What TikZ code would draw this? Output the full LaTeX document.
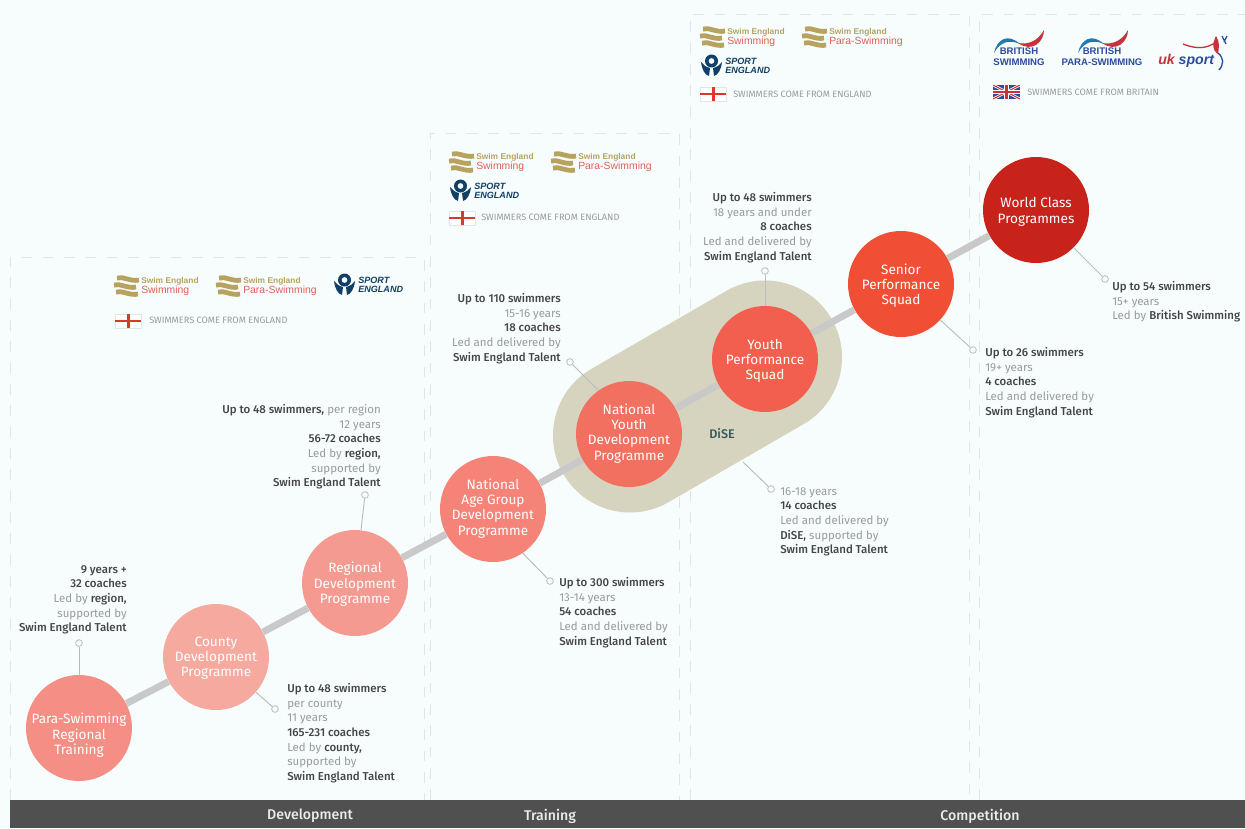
\documentclass[tikz,border=0pt]{standalone}
\usepackage{fontspec}
\setmainfont{Fira Sans}
\newfontfamily\medfont{Fira Sans Medium}
\newfontfamily\logofont{Liberation Sans}
\usetikzlibrary{calc}
\definecolor{bgc}{HTML}{F7FDFD}
\definecolor{panelc}{HTML}{E0E6E6}
\definecolor{barc}{HTML}{505050}
\definecolor{spinec}{HTML}{C9C9C9}
\definecolor{pillc}{HTML}{D6D3BF}
\definecolor{leadc}{HTML}{B8BDBD}
\definecolor{darkt}{HTML}{454545}
\definecolor{lightt}{HTML}{9A9A9A}
\definecolor{goldc}{HTML}{B7A25F}
\definecolor{redlog}{HTML}{DE5F58}
\definecolor{navyc}{HTML}{123F68}
\definecolor{flagr}{HTML}{D9382B}
\definecolor{bluc}{HTML}{2B4C9B}
\definecolor{swred}{HTML}{C8323A}
\definecolor{disec}{HTML}{2F5A5F}
\definecolor{c1}{HTML}{F58F85}
\definecolor{c2}{HTML}{F6A99F}
\definecolor{c3}{HTML}{F49A90}
\definecolor{c4}{HTML}{F58377}
\definecolor{c5}{HTML}{F17060}
\definecolor{c6}{HTML}{F25F4E}
\definecolor{c7}{HTML}{F14E36}
\definecolor{c8}{HTML}{C8231B}
\newcommand{\bld}[1]{{\color{darkt}\medfont #1}}
\newcommand{\stagetext}[2]{\raisebox{#1}[0pt][0pt]{\begin{tabular}{@{}c@{}}#2\end{tabular}}}
\tikzset{
  x=0.75pt,y=-0.75pt,
  stage/.style={circle,minimum size=79.5pt,inner sep=0pt,align=center,text=white,
    font=\fontsize{10.2}{11.5}\selectfont},
  spine/.style={spinec,line width=5.2pt},
  panel/.style={panelc,line width=0.7pt,dash pattern=on 8pt off 8pt},
  lead/.style={leadc,line width=0.7pt},
  dot/.style={circle,draw=leadc,line width=0.6pt,fill=bgc,minimum size=5pt,inner sep=0pt},
  info/.style={inner sep=0pt,text=lightt,font=\fontsize{8.6}{11}\selectfont},
  infol/.style={info,anchor=north west,align=left},
  infor/.style={info,anchor=north east,align=right},
  band/.style={text=white!92!black,font=\medfont\fontsize{10.6}{12}\selectfont},
  seline/.style={inner sep=0pt,anchor=west,font=\logofont\bfseries\fontsize{6.3}{7}\selectfont},
  flagtext/.style={inner sep=0pt,anchor=west,text=lightt,font=\fontsize{6.9}{8}\selectfont},
  bswim/.style={inner sep=0pt,text=bluc,font=\logofont\bfseries\fontsize{7.2}{8}\selectfont,align=center},
  sebars/.pic={
    \foreach \yy/\xa in {2/3,9/0,16/2}{
      \draw[goldc,line width=3.6pt] (\xa,\yy+1) .. controls (\xa+6,\yy-1) and (\xa+14,\yy+5) .. (\xa+22,\yy+3);
    }
  },
  seswim/.pic={
    \pic at (0,0) {sebars};
    \node[seline,text=goldc] (-a) at (27,6) {Swim England};
    \node[seline,text=redlog,font=\logofont\fontsize{7.8}{8}\selectfont] (-b) at (27,15.5) {Swimming};
  },
  separa/.pic={
    \pic at (0,0) {sebars};
    \node[seline,text=goldc] (-a) at (27,6) {Swim England};
    \node[seline,text=redlog,font=\logofont\fontsize{7.8}{8}\selectfont] (-b) at (27,15.5) {Para-Swimming};
  },
  sport/.pic={
    \fill[navyc,even odd rule] (10.5,5) circle (6.5) (10.5,5) circle (3);
    \fill[navyc] (0,6) .. controls (1,14) and (4,19) .. (8,20) -- (9,12) .. controls (5,11) and (2,9) .. (0,6) -- cycle;
    \fill[navyc] (21,6) .. controls (20,14) and (17,19) .. (13,20) -- (12,12) .. controls (16,11) and (19,9) .. (21,6) -- cycle;
    \node[inner sep=0pt,anchor=west,text=navyc,font=\logofont\bfseries\itshape\fontsize{6.8}{7}\selectfont,align=left] (-t) at (24,10) {SPORT\\ENGLAND};
  },
  engflag/.pic={
    \fill[white,draw=panelc,line width=0.4pt] (0,0) rectangle (26,14);
    \fill[flagr] (11.5,0) rectangle (14.5,14);
    \fill[flagr] (0,5.8) rectangle (26,8.2);
  },
  ukflag/.pic={
    \begin{scope}
      \clip (0,0) rectangle (27,14);
      \fill[bluc] (0,0) rectangle (27,14);
      \draw[white,line width=2pt] (0,0) -- (27,14) (27,0) -- (0,14);
      \draw[swred,line width=0.8pt] (0,0) -- (27,14) (27,0) -- (0,14);
      \draw[white,line width=3.4pt] (13.5,0) -- (13.5,14) (0,7) -- (27,7);
      \draw[swred,line width=1.8pt] (13.5,0) -- (13.5,14) (0,7) -- (27,7);
    \end{scope}
  },
  swoosh/.pic={
    \fill[bluc!75!cyan] (0,23) .. controls (3,9) and (14,3) .. (26,14) .. controls (15,9) and (6,12) .. (0,23) -- cycle;
    \fill[swred] (24,13) .. controls (34,15) and (44,11) .. (50,0) .. controls (50,12) and (38,23) .. (24,13) -- cycle;
  },
}
\begin{document}
\begin{tikzpicture}
\useasboundingbox (0,0) rectangle (1245,828);
\fill[bgc] (0,0) rectangle (1245,828);
% panels
\draw[panel] (10,800) -- (10,257) -- (424,257) -- (424,800);
\draw[panel] (430,800) -- (430,133) -- (679,133) -- (679,800);
\draw[panel] (690,800) -- (690,14) -- (969,14) -- (969,800);
\draw[panel] (979,800) -- (979,14) -- (1245,14);
% bottom band
\fill[barc] (10,800) rectangle (1245,828);
\node[band] (bandDev) at (310,816) {Development};
\node[band] (bandTrain) at (550,816) {Training};
\node[band] (bandComp) at (980,816) {Competition};
% DiSE pill
\coordinate (pillA) at (630,435.5);
\coordinate (pillB) at (765,357.5);
\draw[pillc,line width=115.5pt,line cap=round] (pillA) -- (pillB);
\node[inner sep=0pt,text=disec,font=\medfont\fontsize{9.4}{11}\selectfont] (dise) at (722,434) {DiSE};
% stages
\node[stage,fill=c1] (para) at (79,728) {\stagetext{-8.5pt}{Para-Swimming\\Regional\\Training}};
\node[stage,fill=c2] (county) at (216,657) {\stagetext{-3.6pt}{County\\Development\\Programme}};
\node[stage,fill=c3] (regional) at (355,583) {\stagetext{-4pt}{Regional\\Development\\Programme}};
\node[stage,fill=c4] (nag) at (493,509) {\stagetext{-2.5pt}{National\\Age Group\\Development\\Programme}};
\node[stage,fill=c5] (nyd) at (629,434) {\stagetext{-2.5pt}{National\\Youth\\Development\\Programme}};
\node[stage,fill=c6] (yps) at (765,359) {\stagetext{-4.4pt}{Youth\\Performance\\Squad}};
\node[stage,fill=c7] (sps) at (901,284) {\stagetext{-4.4pt}{Senior\\Performance\\Squad}};
\node[stage,fill=c8] (wc) at (1036,210) {\stagetext{-4.4pt}{World Class\\Programmes}};
% spine
\draw[spine] (para) -- (county);
\draw[spine] (county) -- (regional);
\draw[spine] (regional) -- (nag);
\draw[spine] (nag) -- (nyd);
\draw[spine] (nyd) -- (yps);
\draw[spine] (yps) -- (sps);
\draw[spine] (sps) -- (wc);
% lead dots and connectors
\node[dot] (dPara) at (79,643) {};
\node[dot] (dCounty) at (275,709) {};
\node[dot] (dRegional) at (365,495) {};
\node[dot] (dNag) at (550,581) {};
\node[dot] (dNyd) at (570,362) {};
\node[dot] (dYps) at (765,271) {};
\node[dot] (dDise) at (771,489) {};
\node[dot] (dSps) at (973,350) {};
\node[dot] (dWc) at (1105,279) {};
\coordinate (pillEdge) at (743,462);
\draw[lead] (dPara) -- (para);
\draw[lead] (dCounty) -- (county);
\draw[lead] (dRegional) -- (regional);
\draw[lead] (dNag) -- (nag.-56);
\draw[lead] (dNyd) -- (nyd.125);
\draw[lead] (dYps) -- (yps);
\draw[lead] (dDise) -- (pillEdge);
\draw[lead] (dSps) -- (sps);
\draw[lead] (dWc) -- (wc);
% info text
\node[infor] (iRegional) at (381,404) {\bld{Up to 48 swimmers,} per region\\12 years\\\bld{56-72 coaches}\\Led by \bld{region,}\\supported by\\\bld{Swim England Talent}};
\node[infor] (iPara) at (127,565) {\bld{9 years +}\\\bld{32 coaches}\\Led by \bld{region,}\\supported by\\\bld{Swim England Talent}};
\node[infol] (iCounty) at (287,683) {\bld{Up to 48 swimmers}\\per county\\11 years\\\bld{165-231 coaches}\\Led by \bld{county,}\\supported by\\\bld{Swim England Talent}};
\node[infol] (iNag) at (559,577) {\bld{Up to 300 swimmers}\\13-14 years\\\bld{54 coaches}\\Led and delivered by\\\bld{Swim England Talent}};
\node[infor] (iNyd) at (561,293) {\bld{Up to 110 swimmers}\\15-16 years\\\bld{18 coaches}\\Led and delivered by\\\bld{Swim England Talent}};
\node[infor] (iYps) at (812,192) {\bld{Up to 48 swimmers}\\18 years and under\\\bld{8 coaches}\\Led and delivered by\\\bld{Swim England Talent}};
\node[infol] (iDise) at (780,487) {16-18 years\\\bld{14 coaches}\\Led and delivered by\\\bld{DiSE,} supported by\\\bld{Swim England Talent}};
\node[infol] (iSps) at (985,347) {\bld{Up to 26 swimmers}\\19+ years\\\bld{4 coaches}\\Led and delivered by\\\bld{Swim England Talent}};
\node[infol] (iWc) at (1112,281) {\bld{Up to 54 swimmers}\\15+ years\\Led by \bld{British Swimming}};
% logos: development
\pic (l1) at (114,275) {seswim};
\pic (l2) at (216,275) {separa};
\pic (l3) at (334,275) {sport};
\pic at (115,314) {engflag};
\node[flagtext] (f1) at (149,320.5) {SWIMMERS COME FROM ENGLAND};
% logos: training
\pic (l4) at (449,151) {seswim};
\pic (l5) at (551,151) {separa};
\pic (l6) at (450,181) {sport};
\pic at (449,211) {engflag};
\node[flagtext] (f2) at (481,217.5) {SWIMMERS COME FROM ENGLAND};
% logos: competition
\pic (l7) at (700,26) {seswim};
\pic (l8) at (802,26) {separa};
\pic (l9) at (701,56) {sport};
\pic at (700,87) {engflag};
\node[flagtext] (f3) at (733,94) {SWIMMERS COME FROM ENGLAND};
% logos: britain
\pic at (994,30) {swoosh};
\node[bswim] (bs) at (1019,57) {BRITISH\\SWIMMING};
\pic at (1078,30) {swoosh};
\node[bswim] (bp) at (1102,57) {BRITISH\\PARA-SWIMMING};
\node[inner sep=0pt,anchor=west,font=\logofont\itshape\bfseries\fontsize{10.6}{11}\selectfont] (uks) at (1158,61) {\textcolor{swred}{uk} \textcolor{bluc}{sport}};
\draw[swred,line width=1pt] (1183,44) .. controls (1198,50) and (1208,48) .. (1216,42);
\fill[swred] (1216,36) .. controls (1212,44) and (1212,50) .. (1218,54) .. controls (1219,47) and (1220,42) .. (1216,36) -- cycle;
\draw[bluc,line width=0.9pt] (1222,36) -- (1226,44) (1227,36) -- (1224,42);
\draw[bluc,line width=1pt] (1218,53) .. controls (1224,58) and (1224,64) .. (1219,70);
\pic at (993,85) {ukflag};
\node[flagtext] (f4) at (1027,92) {SWIMMERS COME FROM BRITAIN};
\end{tikzpicture}
\end{document}
